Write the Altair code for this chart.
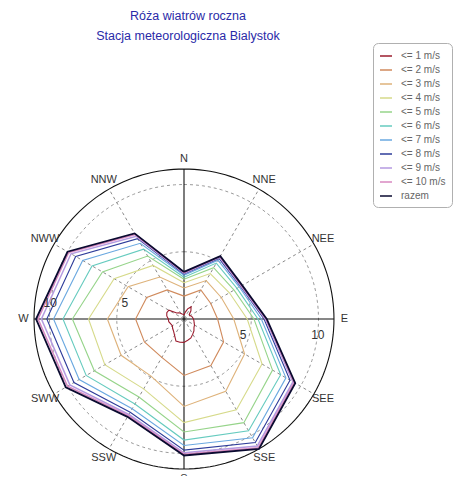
import altair as alt
import pandas as pd

# ---------------- data ----------------
title_lines = ["Róża wiatrów roczna", "Stacja meteorologiczna Bialystok"]

directions = ["N", "NNE", "NEE", "E", "SEE", "SSE", "S", "SSW", "SWW", "W", "NWW", "NNW"]
dir_angles = [0, 30, 60, 90, 120, 150, 180, 210, 240, 270, 300, 330]

series_names = ["<= 1 m/s", "<= 2 m/s", "<= 3 m/s", "<= 4 m/s", "<= 5 m/s",
                "<= 6 m/s", "<= 7 m/s", "<= 8 m/s", "<= 9 m/s", "<= 10 m/s", "razem"]

le1_angles = list(range(0, 360, 10))
le1 = [0.3, 0.5, 0.8, 1.05, 0.8, 0.5, 0.5, 0.6, 0.65, 0.7, 0.75, 0.8,
       0.9, 0.97, 1.15, 1.3, 1.5, 1.6, 1.74, 1.75, 1.75, 1.4, 1.2, 1.1,
       1.0, 1.05, 1.15, 1.17, 1.3, 1.36, 1.3, 0.7, 0.6, 0.5, 0.4, 0.35]

le2 = [1.7, 2.5, 2.3, 2.5, 3.4, 4.0, 4.2, 3.3, 3.4, 3.6, 3.2, 2.5]
le3 = [2.3, 3.3, 3.2, 3.7, 5.2, 6.2, 6.5, 4.9, 5.4, 5.7, 4.8, 3.6]
le4 = [2.7, 3.9, 3.9, 4.7, 6.7, 7.8, 7.7, 6.0, 6.8, 7.1, 6.0, 4.6]
le5 = [2.95, 4.4, 4.3, 5.2, 7.6, 8.9, 8.4, 6.7, 7.7, 8.3, 7.0, 5.4]
le6 = [3.1, 4.8, 4.55, 5.5, 8.3, 9.6, 9.0, 7.3, 8.4, 9.0, 7.9, 6.0]
le7 = [3.25, 5.05, 4.75, 5.75, 8.75, 10.2, 9.4, 7.7, 9.0, 9.7, 8.7, 6.5]
le8 = [3.35, 5.2, 4.85, 5.95, 9.1, 10.6, 9.75, 8.0, 9.45, 10.2, 9.3, 6.9]
le9 = [3.4, 5.3, 4.9, 6.05, 9.35, 10.9, 9.95, 8.2, 9.8, 10.6, 9.7, 7.1]
le10 = [3.45, 5.35, 4.95, 6.1, 9.45, 11.05, 10.05, 8.3, 10.0, 10.85, 9.9, 7.25]
razem = [3.5, 5.4, 5.0, 6.15, 9.55, 11.15, 10.15, 8.4, 10.15, 11.0, 10.0, 7.35]

ring_values = [5, 10]

colors = ["#9b1c2e", "#d08a5c", "#deb27a", "#d6da8a", "#96d48a", "#66cbbf",
          "#6aa8e0", "#2e3c9a", "#b49ae0", "#d888c0", "#0a0a30"]

# ---------------- geometry ----------------
PX = 13.45            # pixels per unit
W, H = 446, 424       # view size
CX, CY = 176, 267     # polar centre inside the view
rmax = max(razem)

xs = alt.Scale(domain=[-CX / PX, (W - CX) / PX], nice=False, zero=False)
ys = alt.Scale(domain=[-(H - CY) / PX, CY / PX], nice=False, zero=False)

polar_xy = dict(x="datum.r * sin(datum.a * PI / 180)",
                y="datum.r * cos(datum.a * PI / 180)")

# series table
rows = []
all_series = [le1, le2, le3, le4, le5, le6, le7, le8, le9, le10, razem]
for name, vals in zip(series_names, all_series):
    angs = le1_angles if len(vals) == len(le1_angles) else dir_angles
    pts = list(zip(angs, vals)) + [(angs[0], vals[0])]
    for k, (a, v) in enumerate(pts):
        rows.append({"series": name, "a": a, "r": v, "k": k})
df = pd.DataFrame(rows)

# rings
ring_rows = []
for rv in ring_values + [rmax]:
    for a in range(0, 361, 2):
        ring_rows.append({"ring": rv, "a": a, "r": rv,
                          "outer": rv == rmax})
rings = pd.DataFrame(ring_rows)

# spokes
spoke_rows = []
for a in range(0, 360, 30):
    for r in (0, rmax):
        spoke_rows.append({"sa": a, "a": a, "r": r, "main": a % 90 == 0})
spokes = pd.DataFrame(spoke_rows)

labels = pd.DataFrame({"name": directions, "a": dir_angles})
ticks = pd.DataFrame({"t": [str(v) for v in ring_values] * 2,
                      "r": ring_values * 2,
                      "side": [-1] * len(ring_values) + [1] * len(ring_values)})

X = lambda: alt.X("x:Q", scale=xs, axis=None)
Y = lambda: alt.Y("y:Q", scale=ys, axis=None)

dash_rings = alt.Chart(rings).transform_filter("!datum.outer").transform_calculate(**polar_xy).mark_line(
    stroke="#9a9a9a", strokeWidth=1, strokeDash=[3, 3]
).encode(x=X(), y=Y(), detail="ring:N", order="a:Q")

outer_ring = alt.Chart(rings).transform_filter("datum.outer").transform_calculate(**polar_xy).mark_line(
    stroke="#111111", strokeWidth=1.1
).encode(x=X(), y=Y(), order="a:Q")

dash_spokes = alt.Chart(spokes).transform_filter("!datum.main").transform_calculate(**polar_xy).mark_line(
    stroke="#8a8a8a", strokeWidth=1, strokeDash=[3, 3]
).encode(x=X(), y=Y(), detail="sa:N", order="r:Q")

main_spokes = alt.Chart(spokes).transform_filter("datum.main").transform_calculate(**polar_xy).mark_line(
    stroke="#111111", strokeWidth=1.1
).encode(x=X(), y=Y(), detail="sa:N", order="r:Q")

lines = alt.Chart(df).transform_calculate(
    **polar_xy,
    sw="datum.series == 'razem' ? 1.8 : (datum.series == '<= 9 m/s' || datum.series == '<= 10 m/s' ? 1.5 : 1.1)"
).mark_line().encode(
    x=X(), y=Y(),
    color=alt.Color("series:N", sort=series_names,
                    scale=alt.Scale(domain=series_names, range=colors),
                    legend=alt.Legend(orient="none", legendX=365, legendY=-9, title=None,
                                      symbolType="stroke", symbolSize=144, symbolStrokeWidth=1.5,
                                      labelFontSize=10, labelColor="#666666", labelFont="Liberation Sans",
                                      strokeColor="#b0b0b0", fillColor="white", cornerRadius=5,
                                      padding=6, rowPadding=2, labelOffset=8)),
    strokeWidth=alt.StrokeWidth("sw:Q", scale=None, legend=None),
    order="k:Q",
)

dir_text = alt.Chart(labels).transform_calculate(
    r=f"{rmax} * 1.07", **polar_xy
).mark_text(fontSize=11, font="Liberation Sans", color="#333333",
            align="center", baseline="middle").encode(x=X(), y=Y(), text="name:N")

tick_text = alt.Chart(ticks).transform_calculate(
    x="datum.side * (datum.r * 1.11 - 1.15)",
    y="-datum.side * 1.22"
).mark_text(fontSize=12, font="Liberation Sans", color="#333333",
            align="center", baseline="middle").encode(x=X(), y=Y(), text="t:N")

chart = alt.layer(
    dash_rings, dash_spokes, outer_ring, main_spokes, lines, dir_text, tick_text
).properties(
    width=W, height=H,
    autosize=alt.AutoSizeParams(type="none"),
    padding={"top": 44, "left": 0, "right": 0, "bottom": 0},
    title=alt.TitleParams(text=title_lines, color="#2a2aa8", fontSize=12.5,
                          font="Liberation Sans", fontWeight="normal",
                          anchor="middle", frame="group", dx=-43, offset=0, lineHeight=20),
).configure_view(stroke=None)

chart.save("out.html", embed_options={"renderer": "svg", "actions": False})
